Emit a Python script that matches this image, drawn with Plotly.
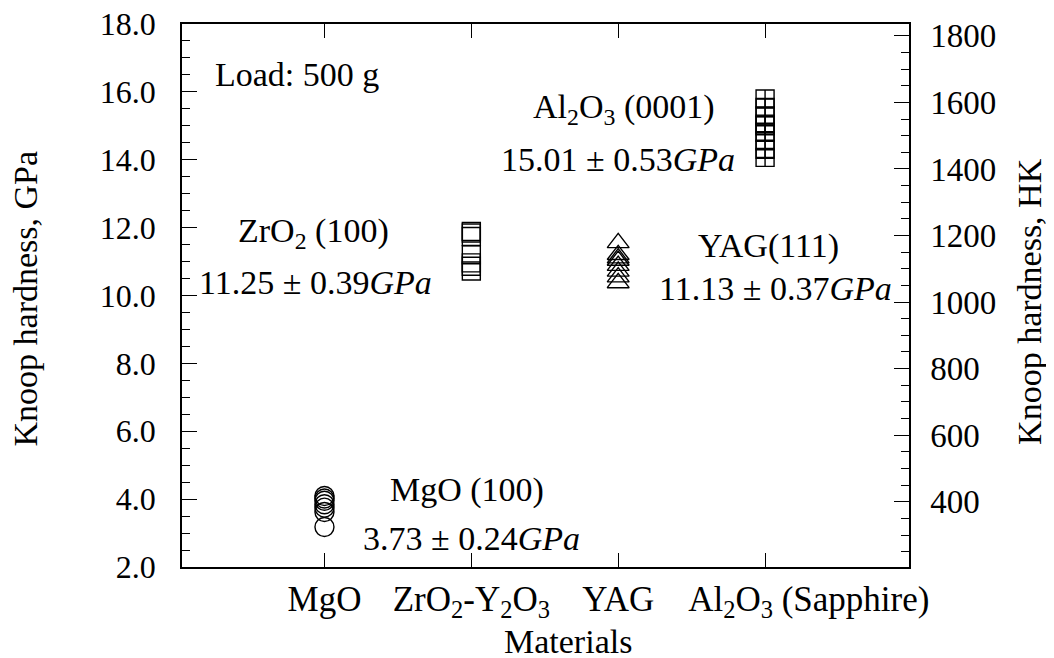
import plotly.graph_objects as go

# ---- data (Knoop hardness, GPa) ----
categories = ["MgO", "ZrO2-Y2O3", "YAG", "Al2O3 (Sapphire)"]
tick_labels = ["MgO", "ZrO<sub>2</sub>-Y<sub>2</sub>O<sub>3</sub>", "YAG",
               "\u00a0" * 10 + "Al<sub>2</sub>O<sub>3</sub> (Sapphire)"]
mgo_gpa = [4.09, 4.02, 3.95, 3.85, 3.75, 3.62, 3.18]
zro2_gpa = [11.89, 11.84, 11.74, 11.20, 10.96, 10.86, 10.72]
yag_gpa = [11.55, 11.20, 11.10, 11.03, 10.88, 10.71, 10.54, 10.37]
al2o3_gpa = [15.79, 15.54, 15.29, 15.05, 15.00, 14.81, 14.56, 14.31, 14.07]

gpa_to_hk = 1000 / 9.80665  # 1 GPa = 101.97 HK

FONT = "Liberation Serif, Times New Roman, serif"
BLACK = "black"

fig = go.Figure()

def add(cat, vals, symbol, size):
    fig.add_trace(go.Scatter(
        x=[cat] * len(vals), y=vals, mode="markers", showlegend=False,
        marker=dict(symbol=symbol, size=size, color=BLACK,
                    line=dict(color=BLACK, width=1.4)),
    ))

add(categories[0], mgo_gpa, "circle-open", 19)
add(categories[1], zro2_gpa, "square-open", 18)
add(categories[2], yag_gpa, "triangle-up-open", 19)
add(categories[3], al2o3_gpa, "square-cross-open", 18)

# invisible trace on the HK axis so it is drawn
fig.add_trace(go.Scatter(
    x=[categories[0]] * len(mgo_gpa), y=[v * gpa_to_hk for v in mgo_gpa],
    yaxis="y2", mode="markers", marker=dict(opacity=0), showlegend=False,
    hoverinfo="skip"))

fig.update_layout(
    template="none",
    width=1046, height=650,
    margin=dict(l=174, r=145, t=16, b=91, autoexpand=False),
    paper_bgcolor="white", plot_bgcolor="white",
    font=dict(family=FONT, color=BLACK),
    xaxis=dict(
        type="category", categoryorder="array", categoryarray=categories,
        tickvals=categories, ticktext=tick_labels, automargin=False,
        range=[-0.97, 3.98], showgrid=False, zeroline=False,
        showline=True, linecolor=BLACK, linewidth=1.5, mirror="ticks",
        ticks="inside", ticklen=14, tickwidth=1.3, tickcolor=BLACK,
        tickangle=0, ticklabeloverflow="allow",
        tickfont=dict(family=FONT, size=35, color=BLACK), ticklabelstandoff=0,
    ),
    yaxis=dict(
        range=[2, 18], tick0=2, dtick=2, tickformat=".1f", automargin=False,
        showgrid=False, zeroline=False,
        showline=True, linecolor=BLACK, linewidth=1.5,
        ticks="inside", ticklen=15, tickwidth=1.3, tickcolor=BLACK,
        ticklabeloverflow="allow",
        minor=dict(dtick=0.5, ticks="inside", ticklen=8, tickwidth=1, tickcolor=BLACK),
        tickfont=dict(family=FONT, size=32, color=BLACK), ticklabelstandoff=18,
    ),
    yaxis2=dict(
        overlaying="y", side="right", automargin=False,
        range=[2 * gpa_to_hk, 18 * gpa_to_hk], tick0=0, dtick=200,
        showgrid=False, zeroline=False,
        showline=True, linecolor=BLACK, linewidth=1.5,
        ticks="inside", ticklen=15, tickwidth=1.3, tickcolor=BLACK,
        ticklabeloverflow="allow",
        minor=dict(dtick=50, ticks="inside", ticklen=8, tickwidth=1, tickcolor=BLACK),
        tickfont=dict(family=FONT, size=33, color=BLACK), ticklabelstandoff=13,
    ),
)

afont = dict(family=FONT, size=34, color=BLACK)
tfont = dict(family=FONT, size=34, color=BLACK)
notes = [
    ("Load: 500 g", -0.76, 16.5, "left"),
    ("ZrO<sub>2</sub> (100)", -0.075, 11.85, "center"),
    ("11.25 ± 0.39<i>GPa</i>", -0.06, 10.38, "center"),
    ("Al<sub>2</sub>O<sub>3</sub> (0001)", 2.04, 15.5, "center"),
    ("15.01 ± 0.53<i>GPa</i>", 2.0, 14.0, "center"),
    ("YAG(111)", 3.02, 11.47, "center"),
    ("11.13 ± 0.37<i>GPa</i>", 3.07, 10.2, "center"),
    ("MgO (100)", 0.97, 4.26, "center"),
    ("3.73 ± 0.24<i>GPa</i>", 1.0, 2.85, "center"),
]
for text, x, y, anchor in notes:
    fig.add_annotation(text=text, x=x, y=y, xref="x", yref="y",
                       xanchor=anchor, yanchor="middle", showarrow=False, font=afont)

# axis titles
fig.add_annotation(text="Materials", x=0.5 + 22 / 727, y=-0.138, xref="paper", yref="paper",
                   xanchor="center", yanchor="middle", showarrow=False, font=tfont)
fig.add_annotation(text="Knoop hardness, GPa", x=-0.2146, y=0.4945, xref="paper", yref="paper",
                   textangle=-90, xanchor="center", yanchor="middle", showarrow=False, font=tfont)
fig.add_annotation(text="Knoop hardness, HK", x=1.1664, y=0.49, xref="paper", yref="paper",
                   textangle=-90, xanchor="center", yanchor="middle", showarrow=False, font=tfont)

fig.write_html("out.html")
